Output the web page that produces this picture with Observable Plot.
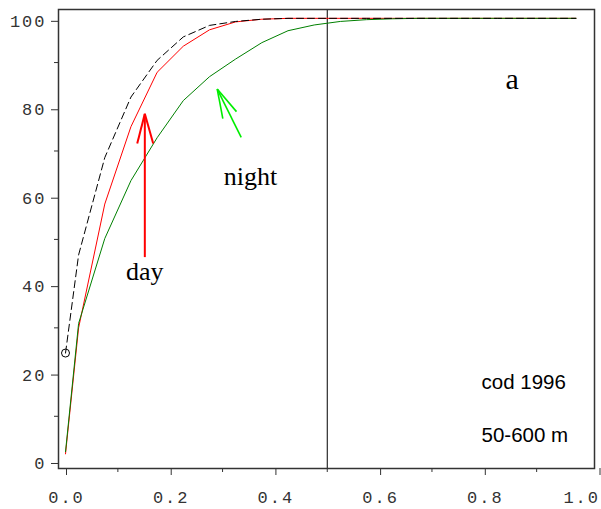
<!DOCTYPE html>
<html>
<head>
<meta charset="utf-8">
<script src="https://cdn.jsdelivr.net/npm/d3@7"></script>
<script src="https://cdn.jsdelivr.net/npm/@observablehq/plot@0.6"></script>
<style>
  html, body { margin: 0; padding: 0; background: #fff; }
  #chart svg g[aria-label="x-axis tick label"],
  #chart svg g[aria-label="y-axis tick label"] { letter-spacing: 2px; }
</style>
</head>
<body>
<div id="chart"></div>
<script>
// Cumulative percentage against relative depth (cod 1996, 50-600 m)
const depth = [0, 0.025, 0.075, 0.125, 0.175, 0.225, 0.275, 0.325, 0.375, 0.425, 0.475,
               0.525, 0.575, 0.625, 0.675, 0.725, 0.775, 0.825, 0.875, 0.925, 0.975];
const dayPct = [1.5, 30, 58, 75.5, 87.8, 93.7, 97.4, 99.2, 99.8, 100, 100,
                100, 100, 100, 100, 100, 100, 100, 100, 100, 100];
const nightPct = [2, 31, 50.2, 63.3, 73, 81.4, 86.8, 90.8, 94.5, 97.2, 98.5,
                  99.3, 99.7, 99.9, 100, 100, 100, 100, 100, 100, 100];
const allPct = [24.3, 46.5, 68.5, 82.2, 90.5, 95.8, 98.4, 99.3, 99.8, 100, 100,
                100, 100, 100, 100, 100, 100, 100, 100, 100, 100];

// Axis ticks (the last x label is pulled inside the right edge)
const xMajor = [0, 0.2, 0.4, 0.6, 0.8];
const xLast = [1.0];
const xMinor = [0.1, 0.3, 0.5, 0.7, 0.9];
const yMajor = [0, 20, 40, 60, 80, 100];
const yMinor = [10, 30, 50, 70, 90];

// Reference depth marker
const midDepth = [0.5];

// Annotation arrows: [x1, y1, x2, y2] segments (shaft, two wings)
const dayArrow = [
  [0.1515, 46.0, 0.1515, 78.4],
  [0.137, 71.7, 0.1515, 78.4],
  [0.1675, 71.7, 0.1515, 78.4]
];
const nightArrow = [
  [0.3356, 73.1, 0.2898, 84.0],
  [0.3005, 77.3, 0.2898, 84.0],
  [0.3266, 78.9, 0.2898, 84.0]
];

// Labels
const serifLabels = [
  {x: 0.1515, y: 40.9, text: "day", size: 26},
  {x: 0.3534, y: 62.4, text: "night", size: 26},
  {x: 0.853, y: 84.1, text: "a", size: 30}
];
const sansLabels = [
  {x: 0.7947, y: 16.2, text: "cod 1996"},
  {x: 0.7947, y: 4.1, text: "50-600 m"}
];

const series = (ys) => depth.map((d, i) => ({x: d, y: ys[i]}));
const segs = (arr) => arr.map(([x1, y1, x2, y2]) => ({x1, y1, x2, y2}));
const tickFont = {fontSize: 17, fontFamily: "Liberation Mono", label: null};

const chart = Plot.plot({
  width: 601,
  height: 509,
  marginLeft: 58,
  marginRight: 7,
  marginTop: 9,
  marginBottom: 41,
  style: {background: "#fff", color: "#333"},
  x: {domain: [-0.0134, 1.0105]},
  y: {domain: [-1.81, 102.0]},
  marks: [
    Plot.axisX({ticks: xMajor, tickSize: 7, tickPadding: 15, tickFormat: (d) => d.toFixed(1), dx: 1, ...tickFont}),
    Plot.axisX({ticks: xLast, tickSize: 7, tickPadding: 15, tickFormat: (d) => d.toFixed(1),
                textAnchor: "end", dx: 11, ...tickFont}),
    Plot.axisX({ticks: xMinor, tickSize: 4, text: null, label: null}),
    Plot.axisY({ticks: yMajor, tickSize: 7, tickPadding: 5, tickFormat: (d) => String(d), dy: 3, ...tickFont}),
    Plot.axisY({ticks: yMinor, tickSize: 4, text: null, label: null}),
    Plot.ruleX(midDepth, {stroke: "#000", strokeWidth: 1}),
    Plot.line(series(dayPct), {x: "x", y: "y", stroke: "#ff0000", strokeWidth: 1}),
    Plot.line(series(nightPct), {x: "x", y: "y", stroke: "#008000", strokeWidth: 1}),
    Plot.line(series(allPct), {x: "x", y: "y", stroke: "#000", strokeWidth: 1, strokeDasharray: "7,4"}),
    Plot.dot([{x: depth[0], y: allPct[0]}], {x: "x", y: "y", r: 4, stroke: "#000", fill: "none", strokeWidth: 1}),
    Plot.link(segs(dayArrow), {x1: "x1", y1: "y1", x2: "x2", y2: "y2", stroke: "#ff0000", strokeWidth: 2}),
    Plot.link(segs(nightArrow), {x1: "x1", y1: "y1", x2: "x2", y2: "y2", stroke: "#00ee00", strokeWidth: 1.6}),
    Plot.text(serifLabels, {x: "x", y: "y", text: "text", fontSize: (d) => d.size,
                            fontFamily: "Liberation Serif", fill: "#000", textAnchor: "middle", lineAnchor: "bottom"}),
    Plot.text(sansLabels, {x: "x", y: "y", text: "text", fontSize: 20.5,
                           fontFamily: "Liberation Sans", fill: "#000", textAnchor: "start", lineAnchor: "bottom"}),
    Plot.frame({stroke: "#333", strokeWidth: 1.5})
  ]
});

document.getElementById("chart").appendChild(chart);
</script>
</body>
</html>
